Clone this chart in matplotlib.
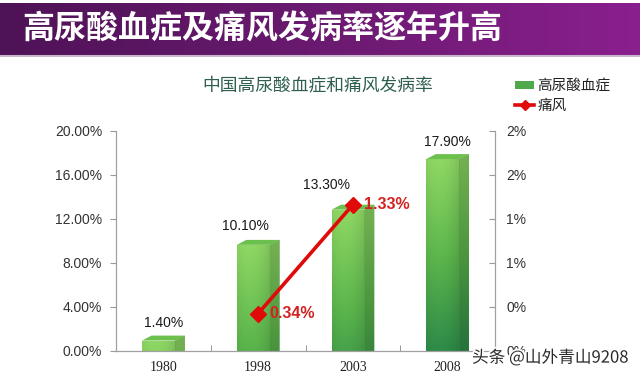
import numpy as np
import matplotlib
matplotlib.use("Agg")
import matplotlib.pyplot as plt
from matplotlib.patches import Patch, Polygon
from matplotlib.lines import Line2D
from matplotlib.colors import LinearSegmentedColormap
import matplotlib.patheffects as pe

plt.rcParams['font.family'] = ['Liberation Sans', 'Noto Sans CJK SC']
CJK = ['Noto Sans CJK SC', 'DejaVu Sans']

# data
years = ['1980', '1998', '2003', '2008']
hyperuricemia = [1.40, 10.10, 13.30, 17.90]      # %, left axis
gout_years = ['1998', '2003']
gout = [0.34, 1.33]                              # %, right axis
left_ticks = [0, 4, 8, 12, 16, 20]
right_ticks = [0, 0.4, 0.8, 1.2, 1.6, 2.0]

banner_title = '高尿酸血症及痛风发病率逐年升高'
chart_title = '中国高尿酸血症和痛风发病率'
legend_labels = ['高尿酸血症', '痛风']
watermark = '头条 @山外青山9208'

W, H = 640, 376
fig = plt.figure(figsize=(W / 100, H / 100), dpi=100)
fig.patch.set_facecolor('white')

# ---- purple banner
bax = fig.add_axes([0, 1 - 57 / H, 1, 54 / H])
grad = np.linspace(0, 1, 256).reshape(1, -1)
purple = LinearSegmentedColormap.from_list('p', ['#4e1256', '#6a1a70', '#8a1f8e'])
bax.imshow(grad, aspect='auto', cmap=purple, extent=[0, 1, 0, 1])
bax.axhline(0.02, color='#c9b3cd', lw=1.5)
bax.set_xlim(0, 1)
bax.set_ylim(0, 1)
bax.axis('off')
fig.text(22 / W, 1 - 30 / H, banner_title, family=CJK, fontsize=23,
         fontweight='bold', color='white', ha='left', va='center')

# ---- chart title
fig.text(318 / W, 1 - 86 / H, chart_title, family=CJK, fontsize=12.8,
         color='#2d5e4f', ha='center', va='center')

# ---- main axes
ax = fig.add_axes([116 / W, 1 - 351 / H, 379 / W, 220 / H])
x = np.arange(len(years))
w, dx, dy = 0.35, 0.1, 0.45
lefts = x - 0.225

front_cmap = LinearSegmentedColormap.from_list('f', ['#8fd864', '#5cb64c', '#2a8848'])
bars = ax.bar(lefts, [v - dy for v in hyperuricemia], width=w, align='edge',
              color='#6cc050', zorder=2, linewidth=0)
for b, v in zip(bars, hyperuricemia):
    x0, x1 = b.get_x(), b.get_x() + b.get_width()
    top = b.get_height()
    ys = np.linspace(0, top, 200)
    col = front_cmap(np.clip((top - ys) / 18.0, 0, 1))[:, :3]
    shade = 1.0 - 0.12 * np.abs(np.linspace(-0.6, 1, 40)) ** 2
    img = col[:, None, :] * shade[None, :, None]
    im = ax.imshow(img, extent=[x0, x1, 0, top], origin='lower',
                   aspect='auto', interpolation='bilinear', zorder=2)
    im.set_clip_path(b)
    # side face
    side = Polygon([(x1, 0), (x1 + dx, 0), (x1 + dx, v), (x1, top)],
                   closed=True, facecolor='#3a9a44', edgecolor='none', zorder=2)
    ax.add_patch(side)
    sim = ax.imshow(col[:, None, :] * 0.82, extent=[x1, x1 + dx, 0, v],
                    origin='lower', aspect='auto', interpolation='bilinear', zorder=2)
    sim.set_clip_path(side)
    # top face
    ax.add_patch(Polygon([(x0, top), (x1, top), (x1 + dx, v), (x0 + dx, v)],
                         closed=True, facecolor='#6cc04e', edgecolor='none', zorder=2))

label_nudge = {0: (0, 4), 1: (-9, 5), 2: (-19, 9), 3: (0, 4)}
for i, v in enumerate(hyperuricemia):
    ax.annotate(f'{v:.2f}%', (x[i], v), xytext=label_nudge[i],
                textcoords='offset points', ha='center', va='bottom',
                fontsize=10, color='#1a1a1a', zorder=5)

ax.set_xlim(-0.5, len(years) - 0.5)
ax.set_ylim(0, 20)
ax.set_yticks(left_ticks)
ax.set_yticklabels([f'{t:.2f}%' for t in left_ticks])
ax.set_xticks(x)
ax.set_xticklabels(years, family=['Liberation Serif'], fontsize=10, color='#222222')
ax.set_xticks(np.arange(len(years) - 1) + 0.5, minor=True)
ax.tick_params(axis='x', which='major', length=0, pad=7)
ax.tick_params(axis='x', which='minor', direction='in', length=4, color='#888888')
ax.tick_params(axis='y', direction='out', length=4, color='#999999',
               labelsize=10, labelcolor='#333333', pad=6)
for s in ['top', 'right']:
    ax.spines[s].set_visible(False)
for s in ['left', 'bottom']:
    ax.spines[s].set_color('#a0a0a0')
    ax.spines[s].set_linewidth(0.9)

# ---- right axis: gout
ax2 = ax.twinx()
gx = [years.index(y) for y in gout_years]
ax2.plot(gx, gout, color='#e00a0a', lw=2.6, marker='D', markersize=8,
         markeredgecolor='#e00a0a', zorder=4)
for xi, v in zip(gx, gout):
    ax2.annotate(f'{v:.2f}%', (xi, v), xytext=(8, 0), textcoords='offset points',
                 ha='left', va='center', fontsize=11.5, fontweight='bold',
                 color='#d42222')
ax2.set_ylim(0, 2)
ax2.set_yticks(right_ticks)
ax2.set_yticklabels([f'{t:.0f}%' for t in right_ticks])
ax2.tick_params(axis='y', direction='in', length=4, color='#999999',
                labelsize=10, labelcolor='#333333', pad=8)
for s in ['top', 'left', 'bottom']:
    ax2.spines[s].set_visible(False)
ax2.spines['right'].set_color('#a0a0a0')
ax2.spines['right'].set_linewidth(0.9)

# ---- legend
handles = [Patch(facecolor='#4fa84a', edgecolor='none'),
           Line2D([], [], color='#e00a0a', lw=2.6, marker='D', markersize=5)]
fig.legend(handles, legend_labels, loc='upper left',
           bbox_to_anchor=(508 / W, 1 - 72 / H), frameon=False,
           prop={'family': CJK, 'size': 10.5}, handlelength=1.3,
           handleheight=0.5, handletextpad=0.2, labelspacing=0.35,
           borderpad=0, labelcolor='#222222')

# ---- watermark (sits over the lowest right tick label, as in the source image)
fig.text(472 / W, 1 - 358 / H, watermark, family=CJK, fontsize=12,
         color='#2a2a2a', ha='left', va='center', zorder=10,
         path_effects=[pe.withStroke(linewidth=2.5, foreground='white')])

fig.savefig('out.png', dpi=100, facecolor='white')
